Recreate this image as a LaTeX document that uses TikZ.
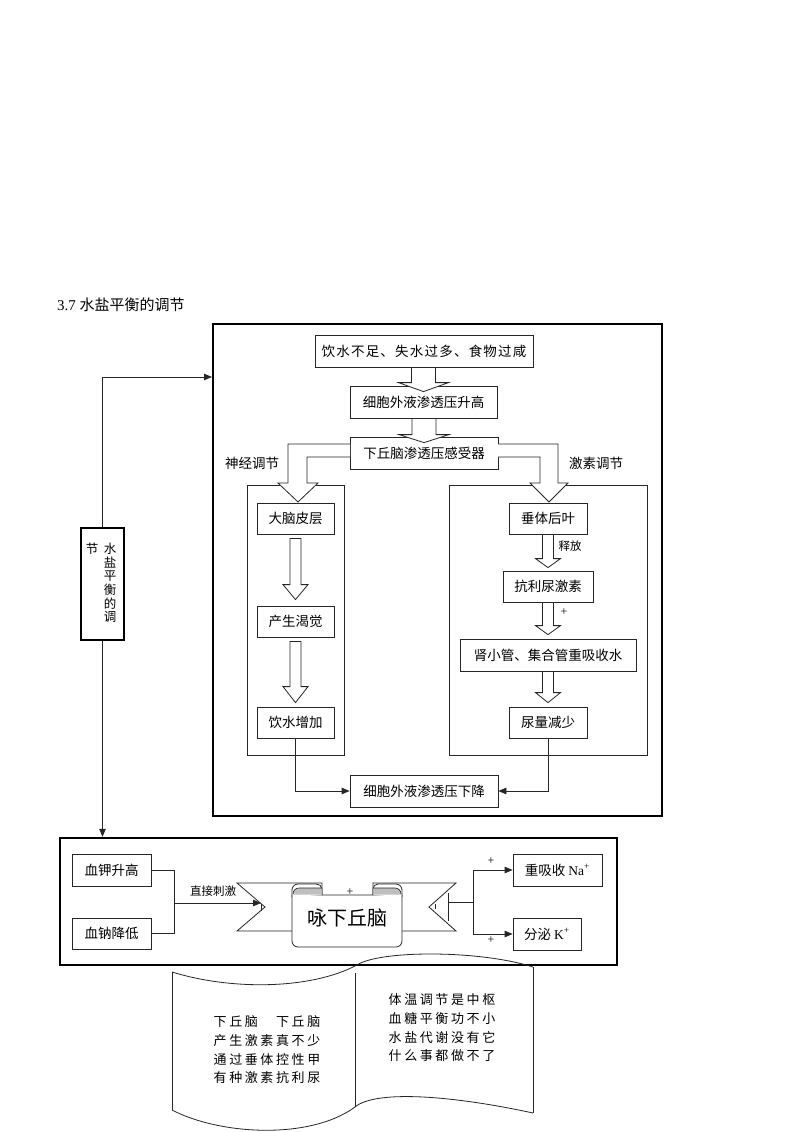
\documentclass[tikz,border=0pt]{standalone}
\usepackage{fontspec}
\setmainfont{Liberation Serif}
\newfontfamily\cjk{Noto Sans CJK SC}
\newfontfamily\cjkn[LetterSpace=9]{Noto Sans CJK SC}
\newfontfamily\cjkw[LetterSpace=20]{Noto Sans CJK SC}
\usetikzlibrary{arrows.meta,calc}
\newcommand\blockarrow[5]{%
  \draw[blk] let \p1=(#1), \p2=(#2) in
   (\x2-#3pt,\y1) -- (\x2-#3pt,\y2+#5pt) -- (\x2-#4pt,\y2+#5pt) -- (\x2,\y2)
   -- (\x2+#4pt,\y2+#5pt) -- (\x2+#3pt,\y2+#5pt) -- (\x2+#3pt,\y1) -- cycle;}
\begin{document}
\begin{tikzpicture}[x=1pt,y=-1pt,
  box/.style={draw=black!85, line width=0.8pt, fill=white, inner sep=0pt,
    font=\cjk\fontsize{13.5}{15}\selectfont},
  frame/.style={draw=black, line width=2.4pt, inner sep=0pt},
  inner/.style={draw=black!85, line width=0.8pt, inner sep=0pt},
  blk/.style={draw=black!85, line width=0.8pt, fill=white},
  conn/.style={draw=black!85, line width=0.8pt},
  arr/.style={conn, -{Triangle[length=8pt,width=6.5pt]}},
  lab/.style={inner sep=0pt, font=\cjk\fontsize{13.5}{15}\selectfont},
  small/.style={inner sep=0pt, font=\cjk\fontsize{11.5}{13}\selectfont},
  plus/.style={inner sep=0pt, font=\fontsize{12}{13}\selectfont}
]
\useasboundingbox (0,0) rectangle (800,1132);
\fill[white] (0,0) rectangle (800,1132);

% title
\node[anchor=west, inner sep=0pt, font=\fontsize{15}{16}\selectfont] (title) at (57,305) {3.7 {\cjk 水盐平衡的调节}};

% big frame
\node[frame, minimum width=449, minimum height=492] (big) at (437.5,570) {};
\node[inner, minimum width=97, minimum height=270] (lb) at (295.5,620) {};
\node[inner, minimum width=198, minimum height=270] (rb) at (548,620) {};

% top chain
\node[box, minimum width=218, minimum height=32, font=\cjkn\fontsize{13.5}{15}\selectfont] (n1) at (424,351) {饮水不足、失水过多、食物过咸};
\node[box, minimum width=147, minimum height=32] (n2) at (423.5,402) {细胞外液渗透压升高};
\node[box, minimum width=148, minimum height=32] (n3) at (424,453) {下丘脑渗透压感受器};

\blockarrow{n1.south}{$(n2.north)+(0,6)$}{12}{25}{9}
\blockarrow{n2.south}{$(n3.north)+(0,6)$}{12}{25}{8}

\node[lab] (lneural) at (252,463) {神经调节};
\node[lab] (lhormone) at (596,463) {激素调节};

% left column
\node[box, minimum width=77, minimum height=31] (a1) at (295.5,518.5) {大脑皮层};
\node[box, minimum width=77, minimum height=31] (a2) at (295.5,621.5) {产生渴觉};
\node[box, minimum width=77, minimum height=31] (a3) at (295.5,722.5) {饮水增加};
% right column
\node[box, minimum width=78, minimum height=31] (b1) at (548,518.5) {垂体后叶};
\node[box, minimum width=90, minimum height=31] (b2) at (548,586.5) {抗利尿激素};
\node[box, minimum width=176, minimum height=32] (b3) at (548,655) {肾小管、集合管重吸收水};
\node[box, minimum width=78, minimum height=31] (b4) at (548,722.5) {尿量减少};

% bent block arrows
\draw[blk] (350,444) -- (288,444) -- (288,483) -- (278,483) -- (298,502) -- (318,483) -- (307,483) -- (307,457) -- (350,457);
\draw[blk] (498,444) -- (558,444) -- (558,483) -- (568,483) -- (549,502) -- (530,483) -- (540,483) -- (540,457) -- (498,457);

\blockarrow{$(a1.south)+(0,4)$}{$(a2.north)+(0,-6)$}{5.5}{12.5}{15}
\blockarrow{$(a2.south)+(0,4)$}{$(a3.north)+(0,-4)$}{5.5}{12.5}{16}
\blockarrow{b1.south}{$(b2.north)+(0,-3)$}{5.5}{12.5}{9}
\blockarrow{b2.south}{$(b3.north)+(0,-4)$}{5.5}{12.5}{9}
\blockarrow{b3.south}{$(b4.north)+(0,-4)$}{5.5}{12.5}{10}

\node[small] (release) at (570,546) {释放};
\node[plus] (p1) at (564,612) {+};

\node[box, minimum width=148, minimum height=32] (n4) at (424,791) {细胞外液渗透压下降};
\draw[arr] (a3.south) |- (n4.west);
\draw[arr] (b4.south) |- (n4.east);

% vertical label box
\node[frame, line width=2pt, minimum width=43, minimum height=112] (vb) at (102.5,584) {};
\node[inner sep=0pt, align=center, font=\cjk\fontsize{12.5}{13.6}\selectfont] (vbt1) at (110,583) {水\\盐\\平\\衡\\的\\调};
\node[inner sep=0pt, font=\cjk\fontsize{12.5}{13.6}\selectfont] (vbt2) at (92,549) {节};

\coordinate (bigin) at (212,377);
\draw[arr] (vb.north) |- (bigin);

% bottom frame
\node[frame, minimum width=557, minimum height=127] (bot) at (338.5,901.5) {};
\draw[arr] (vb.south) -- (vb.south |- bot.north);

\node[box, minimum width=79, minimum height=32] (c1) at (111.5,870) {血钾升高};
\node[box, minimum width=79, minimum height=31] (c2) at (111.5,933.5) {血钠降低};
\node[box, minimum width=89, minimum height=32] (d1) at (557.5,870) {重吸收 {\rmfamily Na\textsuperscript{+}}};
\node[box, minimum width=68, minimum height=32] (d2) at (547,934) {分泌 {\rmfamily K\textsuperscript{+}}};

% ribbon
\draw[blk] (237,883) -- (322,883) -- (322,931) -- (237,931) -- (265,907) -- cycle;
\draw[blk] (456,883) -- (373,883) -- (373,931) -- (456,931) -- (429,907) -- cycle;
\draw[conn, line width=0.6pt] (261,904) -- (261,911);
\draw[conn, line width=0.6pt] (448,893) -- (448,921);
\draw[conn, line width=0.6pt] (435,904) -- (435,909);
\draw[blk] (292,895) [rounded corners=6pt] -- (292,947) -- (402,947) [sharp corners] -- (402,895) -- cycle;
% left curl
\draw[blk] (292,897) -- (292,890) to[out=90,in=180] (298,884) -- (316,884) to[out=0,in=90] (322,889) -- (322,895);
\fill[black!25] (293,894) to[out=90,in=180] (299,888) -- (321.4,888) -- (321.4,894.6) -- (293,894.6) -- cycle;
\draw[conn, line width=0.6pt] (293,894) to[out=90,in=180] (299,888) -- (321.4,888);
% right curl
\draw[blk] (402,897) -- (402,890) to[out=90,in=0] (396,884) -- (378,884) to[out=180,in=90] (373,889) -- (373,895);
\fill[black!25] (401,894) to[out=90,in=0] (395,888) -- (373.6,888) -- (373.6,894.6) -- (401,894.6) -- cycle;
\draw[conn, line width=0.6pt] (401,894) to[out=90,in=0] (395,888) -- (373.6,888);
\node[inner sep=0pt, font=\cjk\fontsize{20}{22}\selectfont] (hyp) at (347,918) {咏下丘脑};
\node[plus] (p2) at (350,892) {+};

% bottom connectors
\coordinate (j1) at (174,903);
\coordinate (lnotch) at (261,903);
\draw[conn] (c1.east) -| (j1);
\draw[conn] (c2.east) -| (j1);
\draw[arr] (j1) -- (lnotch);
\node[small] (stim) at (213,891) {直接刺激};

\coordinate (rfold) at (448,902);
\coordinate (j2) at (473,902);
\draw[conn] (rfold) -- (j2);
\draw[arr] (j2) |- (d1.west);
\draw[arr] (j2) |- (d2.west);
\node[plus] (p3) at (491,861) {+};
\node[plus] (p4) at (491,940) {+};

% scroll
\draw[conn] (172,972) .. controls (230,990) and (310,990) .. (357,965);
\draw[conn] (172,972) -- (172,1110);
\draw[conn] (172,1110) .. controls (220,1135) and (310,1140) .. (355,1107);
\draw[conn] (355,973) -- (355,1107);
\draw[conn] (357,965) .. controls (380,950) and (480,950) .. (533,967);
\draw[conn] (533,967) -- (533,1113);
\draw[conn] (355,1107) .. controls (375,1090) and (450,1095) .. (533,1113);

\node[inner sep=0pt, align=center, font=\cjkw\fontsize{13}{18.7}\selectfont] (poemL) at (267,1050)
  {下丘脑　下丘脑\\产生激素真不少\\通过垂体控性甲\\有种激素抗利尿};
\node[inner sep=0pt, align=center, font=\cjkw\fontsize{13}{18.7}\selectfont] (poemR) at (442,1028)
  {体温调节是中枢\\血糖平衡功不小\\水盐代谢没有它\\什么事都做不了};
\end{tikzpicture}
\end{document}
